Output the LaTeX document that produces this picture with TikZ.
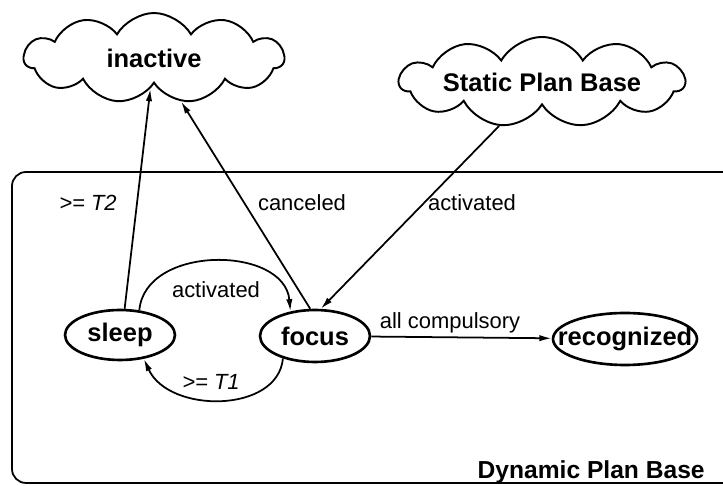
\documentclass[tikz,border=0pt]{standalone}
\usepackage{fontspec}
\setmainfont{Liberation Sans}
\usetikzlibrary{arrows.meta,shapes.geometric,shapes.symbols}
\newcommand{\boxedtext}[1]{\makebox[0pt]{#1}}

\begin{document}
\begin{tikzpicture}[x=0.02cm,y=0.02cm,
  state/.style={draw, ellipse, line width=1.5pt, inner sep=0pt, font=\fontsize{14.5}{17}\selectfont\bfseries},
  base/.style={draw, cloud, cloud puffs=11, cloud puff arc=120, aspect=2.9, line width=1.1pt, inner sep=0pt, font=\fontsize{14.5}{17}\selectfont\bfseries},
  trans/.style={-{Latex[length=7pt,width=3.6pt]}, line width=1pt},
  lbl/.style={font=\fontsize{12.5}{15}\selectfont, inner sep=1pt}]

\clip (0,0) rectangle (723,486);
% dynamic plan base
\draw [line width=1pt, rounded corners=8pt] (12,3) rectangle (760,314);
\node [anchor=base east, inner sep=0pt, font=\fontsize{14}{17}\selectfont\bfseries] (dpb) at (705,7) {Dynamic Plan Base};
% clouds
\node [base, minimum width=5.2cm, minimum height=1.8cm] (inactive) at (154,428) {\boxedtext{inactive}};
\node [base, aspect=2.4, minimum width=5.7cm, minimum height=1.8cm] (static) at (542,404) {\boxedtext{Static Plan Base}};
% states
\node [state, minimum width=2.2cm, minimum height=1cm] (sleep) at (120,151) {\boxedtext{sleep}};
\node [state, minimum width=2.2cm, minimum height=1.04cm] (focus) at (315,150) {\boxedtext{focus}};
\node [state, minimum width=2.88cm, minimum height=1.04cm] (recognized) at (625,147) {\boxedtext{recognized}};
% transitions
\draw [trans] (sleep.80) -- (inactive);
\draw [trans] (focus.100) -- (inactive);
\draw [trans] (static) -- (focus.78);
\draw [trans] (focus) -- (recognized);
\draw [trans] (sleep.52) .. controls +(6,66) and +(-6,66) .. (focus.135);
\draw [trans] (focus.215) .. controls +(-5,-55) and +(25,-55) .. (sleep.-45);
% labels
\node [lbl] (t2) at (88,283) {\itshape >= T2};
\node [lbl] (canceled) at (302,283) {canceled};
\node [lbl] (act1) at (472,283) {activated};
\node [lbl] (act2) at (216,196) {activated};
\node [lbl] (t1) at (211,104) {\itshape >= T1};
\node [lbl] (compulsory) at (450,163) {all compulsory};

\end{tikzpicture}
\end{document}
